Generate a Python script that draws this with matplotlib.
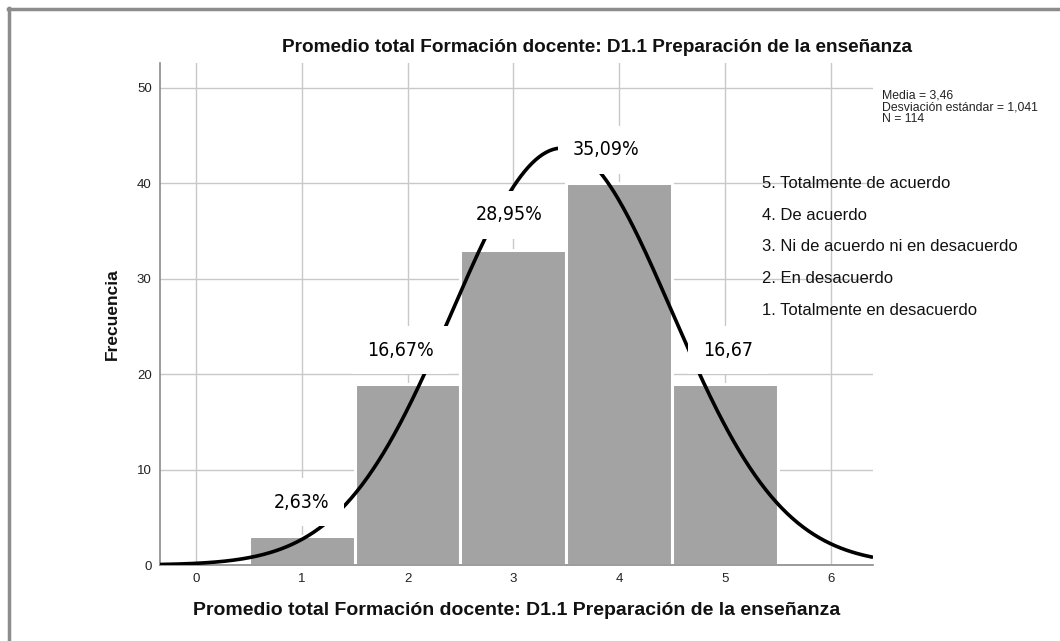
import numpy as np
import matplotlib
matplotlib.use("Agg")
import matplotlib.pyplot as plt
from matplotlib.lines import Line2D

# ---- data ----
categories = [1, 2, 3, 4, 5]
frequencies = [3, 19, 33, 40, 19]
pct_labels = ["2,63%", "16,67%", "28,95%", "35,09%", "16,67"]
pct_label_x = [1.0, 1.93, 2.96, 3.88, 5.03]
pct_label_y = [6.6, 22.5, 36.7, 43.5, 22.5]
x_ticks = [0, 1, 2, 3, 4, 5, 6]
y_ticks = [0, 10, 20, 30, 40, 50]
mean_val = 3.46
sd_val = 1.041
n_val = 114
legend_items = ["5. Totalmente de acuerdo", "4. De acuerdo",
                "3. Ni de acuerdo ni en desacuerdo", "2. En desacuerdo",
                "1. Totalmente en desacuerdo"]
title_text = "Promedio total Formación docente: D1.1 Preparación de la enseñanza"
xlabel_text = "Promedio total Formación docente: D1.1 Preparación de la enseñanza"
ylabel_text = "Frecuencia"
stats_text = "Media = 3,46\nDesviación estándar = 1,041\nN = 114"

plt.rcParams['font.family'] = ['Liberation Sans', 'DejaVu Sans']

fig = plt.figure(figsize=(10.6, 6.41), dpi=100)
ax = fig.add_axes([160/1060, 76/641, (873-160)/1060, (565-63)/641])

xmin, xmax = -0.34, 6.40
ymin, ymax = 0, 52.6
ax.set_xlim(xmin, xmax)
ax.set_ylim(ymin, ymax)

# grid
ax.set_axisbelow(True)
ax.grid(True, color='#c8c8c8', linewidth=1.0)
ax.set_xticks(x_ticks)
ax.set_yticks(y_ticks)
ax.tick_params(length=0, labelsize=9.5, colors='#222222', pad=6)

for s in ['top', 'right']:
    ax.spines[s].set_visible(False)
for s in ['left', 'bottom']:
    ax.spines[s].set_color('#8a8a8a')
    ax.spines[s].set_linewidth(1.2)

# bars
ax.bar(categories, frequencies, width=1.0, color='#a3a3a3',
       edgecolor='white', linewidth=2.2, zorder=2)

# normal curve
xs = np.linspace(xmin, xmax, 400)
ys = n_val * 1.0 / (sd_val * np.sqrt(2 * np.pi)) * np.exp(-0.5 * ((xs - mean_val) / sd_val) ** 2)
ax.plot(xs, ys, color='black', linewidth=2.6, zorder=3, solid_capstyle='butt')

# percentage labels with white boxes
for lx, ly, t in zip(pct_label_x, pct_label_y, pct_labels):
    ax.text(lx, ly, t, ha='center', va='center', fontsize=14,
            family='DejaVu Sans', fontstretch='condensed',
            color='black', zorder=5,
            bbox=dict(boxstyle='square,pad=0.75', facecolor='white', edgecolor='none'))

# legend-like text
leg_x = 5.35
leg_y0 = 40.0
leg_step = 3.33
for i, t in enumerate(legend_items):
    ax.text(leg_x, leg_y0 - i * leg_step, t, ha='left', va='center',
            fontsize=12, color='#111111', zorder=4)

# stats text
fig.text(882/1060, 1 - 90/641, stats_text, ha='left', va='top',
         fontsize=8.8, color='#222222', linespacing=0.95)

# titles
fig.text(597/1060, 1 - 47/641, title_text, ha='center', va='center',
         fontsize=13.7, fontweight='bold', color='#111111')
ax.set_xlabel(xlabel_text, fontsize=14, fontweight='bold', labelpad=12, color='#111111')
ax.set_ylabel(ylabel_text, fontsize=12.5, fontweight='bold', labelpad=12, color='#111111')

# outer gray frame (top and left visible)
fig.add_artist(Line2D([8/1060, 1.0], [1 - 9/641, 1 - 9/641], transform=fig.transFigure,
                      color='#8c8c8c', linewidth=2.5))
fig.add_artist(Line2D([9/1060, 9/1060], [0.0, 1 - 8/641], transform=fig.transFigure,
                      color='#8c8c8c', linewidth=2.5))

fig.savefig("out.png", dpi=100, facecolor='white')
